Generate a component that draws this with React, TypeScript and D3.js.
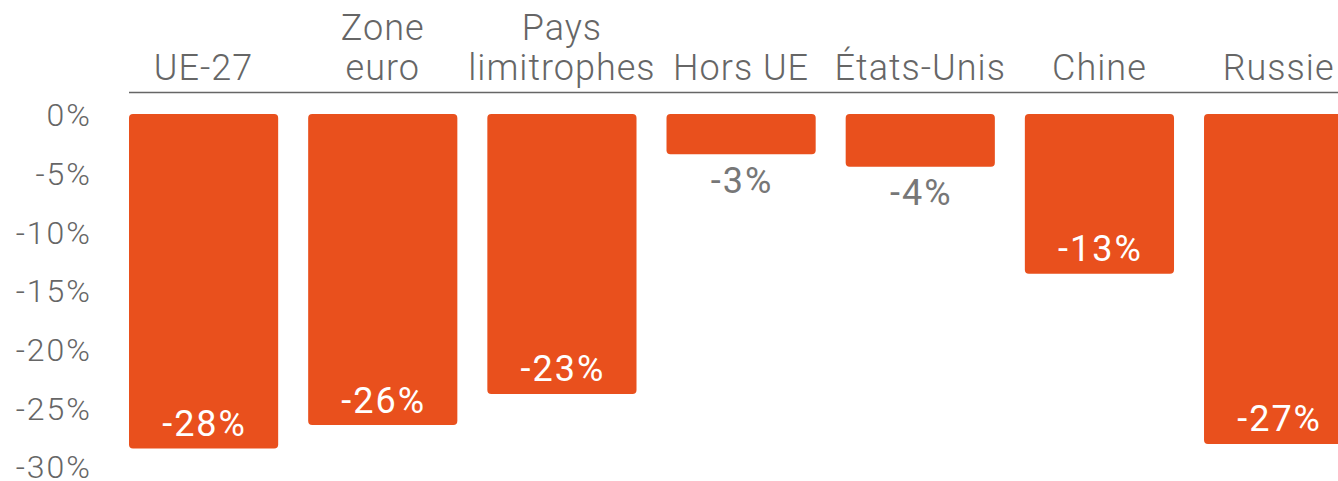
import React from "react";
import * as d3 from "d3";

const categories: string[][] = [
  ["UE-27"],
  ["Zone", "euro"],
  ["Pays", "limitrophes"],
  ["Hors UE"],
  ["États-Unis"],
  ["Chine"],
  ["Russie"],
];
const values: number[] = [-28.5, -26.5, -23.85, -3.43, -4.5, -13.6, -28.1];
const valueLabels: string[] = ["-28%", "-26%", "-23%", "-3%", "-4%", "-13%", "-27%"];
const yTicks: number[] = [0, -5, -10, -15, -20, -25, -30];

const W = 1338;
const H = 481;
const BAR = "#E9501D";
const FONT = "Roboto, 'DejaVu Sans', sans-serif";

export default function App() {
  const keys = categories.map((c) => c.join(" "));
  const step = 179.17;
  const x = d3
    .scaleBand<string>()
    .domain(keys)
    .range([114, 114 + step * keys.length])
    .paddingInner(30 / step)
    .paddingOuter(15 / step);
  const y = d3.scaleLinear().domain([0, -30]).range([114, 466.2]);
  const bw = x.bandwidth();

  return (
    <svg
      width={W}
      height={H}
      style={{ position: "absolute", left: 0, top: 0, background: "#fff" }}
      fontFamily={FONT}
    >
      {/* category labels */}
      {categories.map((lines, i) => {
        const cx = (x(keys[i]) as number) + bw / 2;
        return (
          <text
            key={"c" + i}
            x={cx}
            textAnchor="middle"
            fontSize={36}
            fontWeight={300}
            fill="#666"
            letterSpacing={1}
          >
            {lines.map((l, j) => (
              <tspan key={j} x={cx} y={80 - (lines.length - 1 - j) * 40}>
                {l}
              </tspan>
            ))}
          </text>
        );
      })}
      {/* axis line */}
      <line x1={129} x2={W} y1={92.5} y2={92.5} stroke="#666" strokeWidth={1.6} />
      {/* y tick labels */}
      {yTicks.map((t) => (
        <text
          key={"t" + t}
          x={92}
          y={y(t) + 12.2}
          textAnchor="end"
          fontSize={32}
          fontWeight={300}
          fill="#666"
          letterSpacing={2}
        >
          {t + "%"}
        </text>
      ))}
      {/* bars */}
      {values.map((v, i) => {
        const x0 = x(keys[i]) as number;
        const top = y(0);
        const bot = y(v);
        return (
          <rect
            key={"b" + i}
            x={x0}
            y={top}
            width={bw}
            height={bot - top}
            rx={4}
            ry={4}
            fill={BAR}
          />
        );
      })}
      {/* value labels */}
      {values.map((v, i) => {
        const cx = (x(keys[i]) as number) + bw / 2;
        const h = y(v) - y(0);
        const inside = h > 60;
        return (
          <text
            key={"v" + i}
            x={cx + 1}
            y={inside ? y(v) - 12.5 : y(v) + 38.5}
            textAnchor="middle"
            fontSize={36}
            fontWeight={400}
            fill={inside ? "#fff" : "#777"}
            letterSpacing={2}
          >
            {valueLabels[i]}
          </text>
        );
      })}
    </svg>
  );
}
